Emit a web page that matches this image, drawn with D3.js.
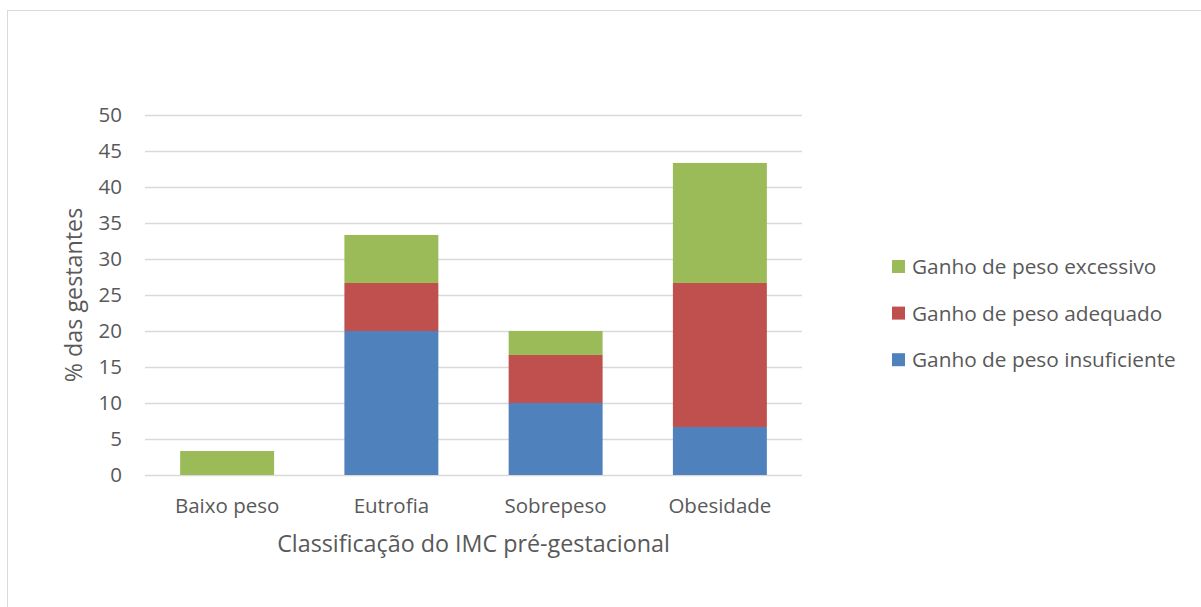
<!DOCTYPE html>
<html><head><meta charset="utf-8">
<script src="https://cdn.jsdelivr.net/npm/d3@7"></script>
<style>
html,body{margin:0;padding:0;background:#fff;}
svg{display:block;}
text{font-family:"Open Sans",sans-serif;fill:#595959;}
</style></head>
<body>
<svg id="chart" width="1201" height="607"></svg>
<script>
const categories = ["Baixo peso", "Eutrofia", "Sobrepeso", "Obesidade"];
const seriesNames = ["Ganho de peso insuficiente", "Ganho de peso adequado", "Ganho de peso excessivo"];
const insuficiente = [0, 20, 10, 6.67];
const adequado = [0, 6.67, 6.67, 20];
const excessivo = [3.33, 6.67, 3.33, 16.67];
const yTicks = [0, 5, 10, 15, 20, 25, 30, 35, 40, 45, 50];
const colors = ["#4f81bd", "#c0504d", "#9bbb59"];
const xTitle = "Classificação do IMC pré-gestacional";
const yTitle = "% das gestantes";

const svg = d3.select("#chart");
// outer chart border
svg.append("rect").attr("x", 7.5).attr("y", 10.5).attr("width", 1200).attr("height", 600)
  .attr("fill", "none").attr("stroke", "#d9d9d9").attr("stroke-width", 1);

const pLeft = 145, pRight = 802, pTop = 115, pBottom = 475;
const x = d3.scaleBand().domain(categories).range([pLeft, pRight]).paddingInner(0.428).paddingOuter(0.214);
const y = d3.scaleLinear().domain([0, 50]).range([pBottom, pTop]);

// gridlines
svg.append("g").selectAll("line").data(yTicks).join("line")
  .attr("x1", pLeft).attr("x2", pRight)
  .attr("y1", d => Math.round(y(d)) + 0.5).attr("y2", d => Math.round(y(d)) + 0.5)
  .attr("stroke", "#d9d9d9").attr("stroke-width", 1.3);

// stacked data
const rows = categories.map((c, i) => ({cat: c, s0: insuficiente[i], s1: adequado[i], s2: excessivo[i]}));
const stack = d3.stack().keys(["s0", "s1", "s2"])(rows);
svg.append("g").selectAll("g").data(stack).join("g")
  .attr("fill", (d, i) => colors[i])
  .selectAll("rect").data(d => d).join("rect")
  .attr("x", d => x(d.data.cat))
  .attr("width", x.bandwidth())
  .attr("y", d => y(d[1]))
  .attr("height", d => Math.max(0, y(d[0]) - y(d[1])));

// y axis labels
const yAxis = d3.axisLeft(y).tickValues(yTicks).tickSize(0).tickPadding(23);
const yg = svg.append("g").attr("transform", `translate(${pLeft},0)`).call(yAxis);
yg.select(".domain").remove();
yg.selectAll("text").attr("font-size", 20.5).style("font-family", "'Open Sans', sans-serif").attr("fill", "#595959");

// x axis labels
const xAxis = d3.axisBottom(x).tickSize(0).tickPadding(23);
const xg = svg.append("g").attr("transform", `translate(0,${pBottom})`).call(xAxis);
xg.select(".domain").remove();
xg.selectAll("text").attr("font-size", 20.5).style("font-family", "'Open Sans', sans-serif").attr("fill", "#595959");

// axis titles
svg.append("text").attr("x", (pLeft + pRight) / 2).attr("y", 552).attr("text-anchor", "middle")
  .attr("font-size", 23.3).text(xTitle);
svg.append("text").attr("transform", `translate(82,${(pTop + pBottom) / 2}) rotate(-90)`)
  .attr("text-anchor", "middle").attr("font-size", 23.3).text(yTitle);

// legend (top to bottom: excessivo, adequado, insuficiente)
const legendOrder = [2, 1, 0];
const lg = svg.append("g").selectAll("g").data(legendOrder).join("g")
  .attr("transform", (d, i) => `translate(892,${260 + i * 46.6})`);
lg.append("rect").attr("width", 13).attr("height", 13).attr("fill", d => colors[d]);
lg.append("text").attr("x", 20).attr("y", 14).attr("font-size", 20.8).text(d => seriesNames[d]);
</script>
</body></html>
